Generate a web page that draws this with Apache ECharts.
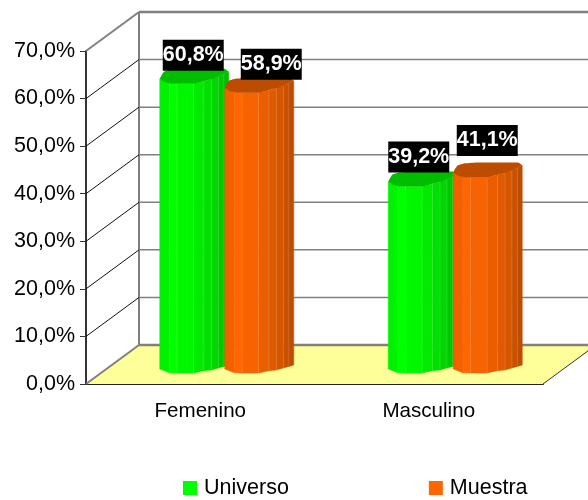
<!DOCTYPE html>
<html>
<head>
<meta charset="utf-8">
<style>
  html, body { margin: 0; padding: 0; background: #fff; }
  #chart { width: 588px; height: 500px; }
</style>
<script src="https://cdn.jsdelivr.net/npm/echarts@6/dist/echarts.min.js"></script>
</head>
<body>
<div id="chart"></div>
<script>
  const categories = ['Femenino', 'Masculino']
  const universo = [60.8, 39.2]
  const muestra = [58.9, 41.1]
  const gridTicks = [0, 10, 20, 30, 40, 50, 60, 70]

  const fontName = '"Liberation Sans", Arial, sans-serif'
  const depthX = 53
  const depthY = -39
  const barWidth = 69
  const barLift = -11

  // faceted cylinder: strip edges and their shade, left to right
  const stripEdges = [0, 0.14, 0.25, 0.49, 0.64, 0.75, 0.85, 0.93, 1]
  const stripShades = [0.95, 1, 0.97, 0.92, 0.88, 0.84, 0.79, 0.75]
  // outlines of the cylinder, [t, px]
  const frontCurve = [[0, -5], [0.06, -2], [0.16, 0], [0.5, 0], [0.6, -2], [0.78, -5], [1, -12]]
  const backCurve = [[0, -5], [0.02, -8], [0.06, -12], [0.15, -14], [0.35, -15], [0.95, -15], [1, -12]]
  const bottomCurve = [[0, -4], [0.06, -1], [0.16, 0], [0.5, 0], [0.6, -2], [0.75, -3], [1, -8]]

  function curveAt(curve, t) {
    for (let i = 1; i < curve.length; i++) {
      if (t <= curve[i][0]) {
        const a = curve[i - 1]
        const b = curve[i]
        return a[1] + (b[1] - a[1]) * (t - a[0]) / (b[0] - a[0])
      }
    }
    return curve[curve.length - 1][1]
  }

  function shade(rgb, f) {
    return 'rgb(' + rgb.map(c => Math.round(c * f)).join(',') + ')'
  }

  function renderWall(params, api) {
    const value = api.value(0)
    const cs = params.coordSys
    const p = api.coord([0, value])
    const x0 = cs.x
    const x1 = cs.x + cs.width
    const backX = x0 + depthX
    const backY = p[1] + depthY
    const edge = value === 0 || value === 70
    const children = []
    if (value === 0) {
      children.push({
        type: 'polygon',
        shape: { points: [[x0, p[1]], [backX, backY], [x1 + depthX, backY], [x1, p[1]]] },
        style: { fill: '#ffff99' }
      })
      children.push({
        type: 'line',
        shape: { x1: x1, y1: p[1], x2: x1 + depthX, y2: backY },
        style: { stroke: '#333', lineWidth: 1 }
      })
      children.push({
        type: 'line',
        shape: { x1: backX, y1: backY, x2: backX, y2: api.coord([0, 70])[1] + depthY },
        style: { stroke: '#808080', lineWidth: 2 }
      })
    }
    children.push({
      type: 'line',
      shape: { x1: x0, y1: p[1], x2: backX, y2: backY },
      style: { stroke: edge ? '#808080' : '#111', lineWidth: edge ? 2 : 1 }
    })
    children.push({
      type: 'line',
      shape: { x1: backX, y1: backY, x2: x1 + depthX, y2: backY },
      style: { stroke: '#808080', lineWidth: edge ? 2.5 : 1.5 }
    })
    return { type: 'group', children: children }
  }

  function cylinder(rgb, offset, labelShift) {
    return function (params, api) {
      const cat = api.value(0)
      const val = api.value(1)
      const base = api.coord([cat, 0])
      const top = api.coord([cat, val])
      const left = base[0] + offset
      const yTop = top[1] + barLift
      const yBottom = base[1] + barLift
      const children = []
      for (let i = 0; i < stripShades.length; i++) {
        const t0 = stripEdges[i]
        const t1 = stripEdges[i + 1]
        const xa = left + t0 * barWidth
        const xb = left + t1 * barWidth
        const points = [
          [xa, yTop + curveAt(frontCurve, t0)],
          [xb, yTop + curveAt(frontCurve, t1)],
          [xb, yBottom + curveAt(bottomCurve, t1)],
          [xa, yBottom + curveAt(bottomCurve, t0)]
        ]
        children.push({
          type: 'polygon',
          shape: { points: points },
          style: { fill: shade(rgb, stripShades[i]), stroke: shade(rgb, stripShades[i]), lineWidth: 0.5 }
        })
        if (i > 1) {
          children.push({
            type: 'line',
            shape: { x1: xa, y1: yTop + curveAt(frontCurve, t0), x2: xa, y2: yBottom + curveAt(bottomCurve, t0) },
            style: { stroke: 'rgba(255,255,255,0.14)', lineWidth: 1 }
          })
        }
      }
      const cap = []
      const steps = 32
      for (let i = 0; i <= steps; i++) {
        const t = i / steps
        cap.push([left + t * barWidth, yTop + curveAt(backCurve, t)])
      }
      for (let i = steps; i >= 0; i--) {
        const t = i / steps
        cap.push([left + t * barWidth, yTop + curveAt(frontCurve, t)])
      }
      children.push({
        type: 'polygon',
        shape: { points: cap, smooth: 0.2 },
        style: { fill: shade(rgb, 0.74) }
      })
      children.push({
        type: 'text',
        z2: 10,
        style: {
          text: val.toFixed(1).replace('.', ',') + '%',
          x: left + barWidth / 2 + labelShift[cat][0],
          y: yTop + labelShift[cat][1],
          align: 'center',
          verticalAlign: 'middle',
          fill: '#fff',
          font: 'bold 21.5px ' + fontName,
          backgroundColor: '#000',
          padding: [5, 0, 4, 0]
        }
      })
      return { type: 'group', children: children }
    }
  }

  const chart = echarts.init(document.getElementById('chart'), null, { renderer: 'canvas' })

  chart.setOption({
    animation: false,
    backgroundColor: '#fff',
    grid: { left: 86, top: 51, width: 457, height: 333 },
    legend: {
      data: ['Universo', 'Muestra'],
      left: 178,
      top: 472,
      icon: 'rect',
      itemWidth: 14,
      itemHeight: 14,
      itemGap: 140,
      textStyle: { fontSize: 21.5, color: '#000', fontFamily: fontName, padding: [0, 0, 0, 2] }
    },
    xAxis: {
      type: 'category',
      data: categories,
      axisLine: { lineStyle: { color: '#222', width: 2 } },
      axisTick: { length: 9, lineStyle: { color: '#333', width: 1 } },
      axisLabel: { color: '#000', fontSize: 20.6, fontFamily: fontName, margin: 17 }
    },
    yAxis: {
      type: 'value',
      min: 0,
      max: 70,
      interval: 10,
      splitLine: { show: false },
      axisLine: { show: true, lineStyle: { color: '#333', width: 2 } },
      axisTick: { show: true, length: 6, lineStyle: { color: '#333', width: 1 } },
      axisLabel: {
        color: '#000',
        fontSize: 21.5,
        fontFamily: fontName,
        margin: 11,
        padding: [3, 0, 0, 0],
        formatter: v => v.toFixed(1).replace('.', ',') + '%'
      }
    },
    series: [
      {
        type: 'custom',
        name: 'walls',
        silent: true,
        clip: false,
        z: 1,
        renderItem: renderWall,
        encode: { y: 0 },
        data: gridTicks.map(t => [t])
      },
      {
        type: 'custom',
        name: 'Universo',
        clip: false,
        z: 3,
        itemStyle: { color: '#00ff00' },
        renderItem: cylinder([0, 255, 0], -40.5, [[-1, -28.5], [-4, -29.5]]),
        encode: { x: 0, y: 1 },
        data: universo.map((v, i) => [i, v])
      },
      {
        type: 'custom',
        name: 'Muestra',
        clip: false,
        z: 4,
        itemStyle: { color: '#ff6600' },
        renderItem: cylinder([255, 102, 0], 24.5, [[12, -28.5], [-0.5, -37]]),
        encode: { x: 0, y: 1 },
        data: muestra.map((v, i) => [i, v])
      }
    ]
  })
</script>
</body>
</html>
